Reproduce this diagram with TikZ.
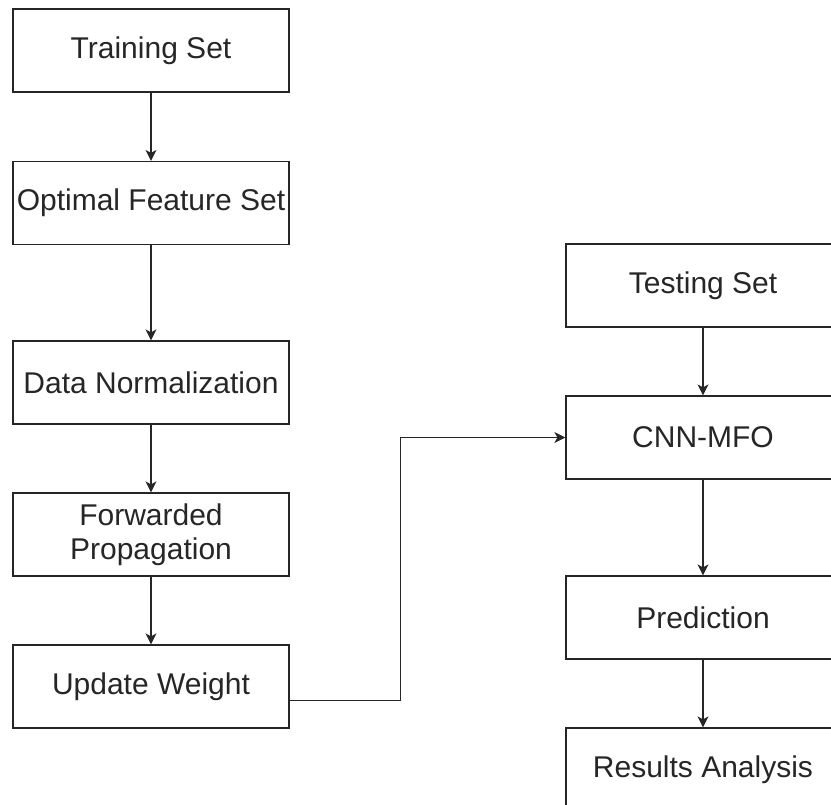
\documentclass[tikz,border=0pt]{standalone}
\usepackage{fontspec}
\setmainfont{Liberation Sans}
\usetikzlibrary{arrows.meta}
\begin{document}
\begin{tikzpicture}[x=1pt,y=-1pt,
  box/.style={draw=black!85, line width=1.2pt, minimum width=276pt, minimum height=83pt,
    inner sep=0pt, align=center, text=black!85, font=\fontsize{30}{34}\selectfont},
  arr/.style={draw=black!85, line width=1.2pt, -{Stealth[length=11pt,width=11pt,inset=3pt]}}]
\useasboundingbox (0,0) rectangle (831,805);
\clip (0,0) rectangle (831,805);
\node[box] (ts) at (151,50.5) {Training Set};
\node[box] (ofs) at (151,203) {Optimal Feature Set};
\node[box] (dn) at (151,382.5) {Data Normalization};
\node[box] (fp) at (151,534.5) {Forwarded\\Propagation};
\node[box] (uw) at (151,686.5) {Update Weight};
\node[box, minimum width=274pt] (test) at (703,285.5) {Testing Set};
\node[box, minimum width=274pt] (cnn) at (703,437.5) {CNN-MFO};
\node[box, minimum width=274pt] (pred) at (703,617.5) {Prediction};
\node[box, minimum width=274pt] (ra) at (703,769.5) {Results Analysis};
\draw[arr] (ts) -- (ofs);
\draw[arr] (ofs) -- (dn);
\draw[arr] (dn) -- (fp);
\draw[arr] (fp) -- (uw);
\draw[arr] (test) -- (cnn);
\draw[arr] (cnn) -- (pred);
\draw[arr] (pred) -- (ra);
\coordinate (uwout) at ([yshift=-14pt]uw.east);
\draw[arr] (uwout) -- ++(111,0) |- (cnn.west);
\end{tikzpicture}
\end{document}
